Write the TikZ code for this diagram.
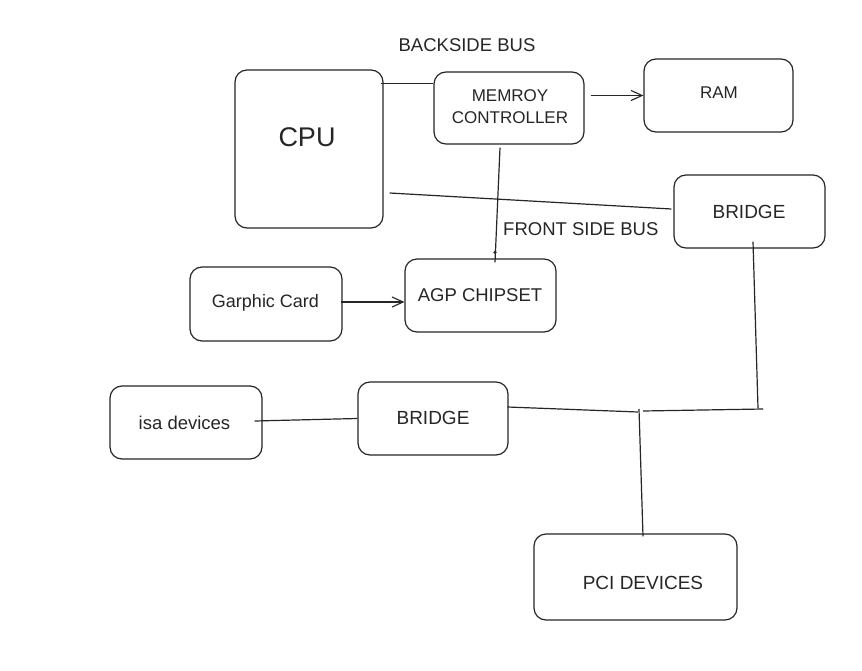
\documentclass[tikz,border=0pt]{standalone}
\usepackage{fontspec}
\setmainfont{Liberation Sans}
\usetikzlibrary{arrows.meta,calc}
\begin{document}
\begin{tikzpicture}[x=1pt,y=-1pt,
  box/.style={draw=black!85, line width=1.2pt, rounded corners=12pt, inner sep=0pt},
  lbl/.style={inner sep=0pt, text=black!85, font=\fontsize{18}{22}\selectfont, align=center},
  wire/.style={draw=black!85, line width=1.2pt},
  arr/.style={wire, -{Straight Barb[length=11pt,width=10pt,line width=1.1pt]}}]
\useasboundingbox[fill=white] (0,0) rectangle (862,671);
% boxes
\node[box, minimum width=148pt, minimum height=158pt] (cpu) at (309,149) {};
\node[lbl, font=\fontsize{27}{30}\selectfont] (cputext) at (307,137) {CPU};
\node[box, minimum width=150pt, minimum height=72pt] (memctrl) at (509,108) {};
\node[lbl, font=\fontsize{17}{22}\selectfont] (memtext) at (510,107) {MEMROY\\CONTROLLER};
\node[box, minimum width=149pt, minimum height=73pt] (ram) at (718.5,95.5) {};
\node[lbl, font=\fontsize{17}{22}\selectfont] (ramtext) at (719,93) {RAM};
\node[box, minimum width=151pt, minimum height=73pt] (bridgeA) at (749.5,211.5) {};
\node[lbl, font=\fontsize{19}{22}\selectfont] (bridgeAtext) at (749,212) {BRIDGE};
\node[box, minimum width=151pt, minimum height=73pt] (agp) at (480.5,295.5) {};
\node[lbl, font=\fontsize{18.5}{22}\selectfont] (agptext) at (480,295) {AGP CHIPSET};
\node[box, minimum width=152pt, minimum height=74pt] (gcard) at (266,304) {};
\node[lbl, font=\fontsize{18}{22}\selectfont] (gcardtext) at (265.5,303) {Garphic Card};
\node[box, minimum width=152pt, minimum height=73pt] (isa) at (186,422.5) {};
\node[lbl, font=\fontsize{18.5}{22}\selectfont] (isatext) at (184.5,423) {isa devices};
\node[box, minimum width=150pt, minimum height=73pt] (bridgeB) at (433,418.5) {};
\node[lbl, font=\fontsize{19}{22}\selectfont] (bridgeBtext) at (433,418) {BRIDGE};
\node[box, minimum width=203pt, minimum height=86pt] (pci) at (635.5,577) {};
\node[lbl, font=\fontsize{19}{22}\selectfont] (pcitext) at (643,583) {PCI DEVICES};
% free labels
\node[lbl, font=\fontsize{18.5}{22}\selectfont] (backside) at (467,45) {BACKSIDE BUS};
\node[lbl, font=\fontsize{18.5}{22}\selectfont, anchor=west] (frontside) at (503,229) {FRONT SIDE BUS};
% bus coordinates
\coordinate (teeL) at (638,412);
\coordinate (teeR) at (643,411);
\coordinate (busR) at (763,409);
\coordinate (teeTop) at (639,409);
\coordinate (dropEnd) at (758,408);
% connectors
\draw[wire] ([shift={(-3,14)}]cpu.north east) -- ([shift={(0,12)}]memctrl.north west);
\draw[arr] ([xshift=6pt]memctrl.east |- ram.west) -- (ram.west);
\draw[wire] ([shift={(-9,3)}]memctrl.south) -- ([shift={(14.5,4)}]agp.north);
\fill[black!85] ([shift={(14.5,-6)}]agp.north) circle (1.8pt);
\draw[wire] ([shift={(6,44)}]cpu.east) -- ([shift={(-2,-2.5)}]bridgeA.west);
\draw[arr] ([xshift=-2pt]gcard.east |- 0,302) -- (agp.west |- 0,302);
\draw[wire] ([shift={(3.5,-7)}]bridgeA.south) -- (dropEnd);
\draw[wire] ([shift={(-1,-11.5)}]bridgeB.east) -- (teeL);
\draw[wire] (teeR) -- (busR);
\draw[wire] (teeTop) -- ([shift={(7.5,3)}]pci.north);
\draw[wire] ([shift={(-8,-1.5)}]isa.east) -- (bridgeB.west);
\end{tikzpicture}
\end{document}
